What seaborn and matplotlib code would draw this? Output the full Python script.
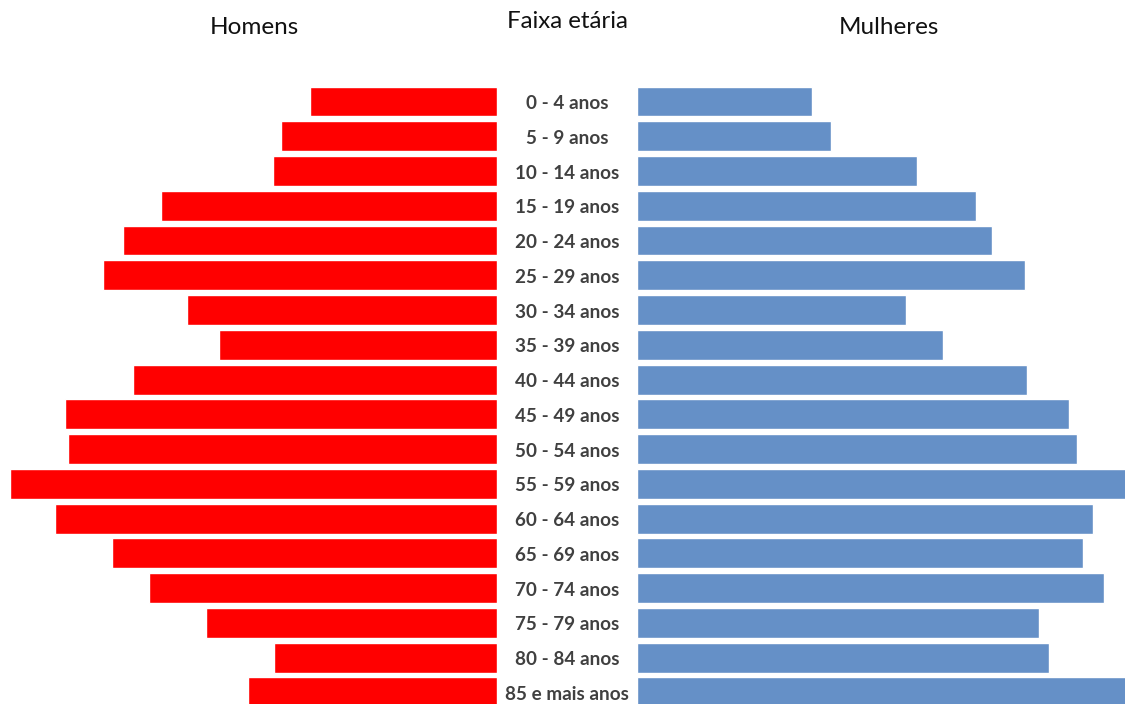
import matplotlib
matplotlib.use("Agg")
import matplotlib.pyplot as plt
import matplotlib.transforms as mtransforms
import seaborn as sns

faixas = ["0 - 4 anos", "5 - 9 anos", "10 - 14 anos", "15 - 19 anos", "20 - 24 anos",
          "25 - 29 anos", "30 - 34 anos", "35 - 39 anos", "40 - 44 anos", "45 - 49 anos",
          "50 - 54 anos", "55 - 59 anos", "60 - 64 anos", "65 - 69 anos", "70 - 74 anos",
          "75 - 79 anos", "80 - 84 anos", "85 e mais anos"]
homens = [187, 216, 224, 336, 374, 394, 310, 278, 364, 432, 429, 487, 442, 385, 348, 291, 223, 249]
mulheres = [175, 194, 280, 339, 355, 388, 269, 306, 390, 432, 440, 500, 456, 446, 467, 402, 412, 500]

sns.set_theme(style="white")
plt.rcParams["font.family"] = ["Lato", "DejaVu Sans"]

W, H = 1125, 704
fig = plt.figure(figsize=(W / 100, H / 100), dpi=100)

# vertical extent: row 0 centred at y=101.5 px, 34.76 px per row
pitch = 34.76
top_px = 101.5 - pitch / 2
bot_px = top_px + pitch * len(faixas)
ax_bottom = (H - bot_px) / H
ax_height = (bot_px - top_px) / H

axL = fig.add_axes([0, ax_bottom, 497 / W, ax_height])
axR = fig.add_axes([637 / W, ax_bottom, (W - 637) / W, ax_height])

sns.barplot(x=homens, y=faixas, ax=axL, color="#FF0000", saturation=1, width=0.86)
sns.barplot(x=mulheres, y=faixas, ax=axR, color="#6590C7", saturation=1, width=0.86)

axL.set_xlim(497, 0)
axR.set_xlim(0, W - 637)
for ax in (axL, axR):
    ax.set_ylim(len(faixas) - 0.5, -0.5)
    ax.set_axis_off()

trans = mtransforms.blended_transform_factory(fig.transFigure, axL.transData)
for i, lab in enumerate(faixas):
    fig.text(567 / W, i + 0.06, lab, transform=trans, ha="center", va="center",
             fontsize=13.6, fontweight="bold", color="#404040")

fig.text(254 / W, 1 - 27 / H, "Homens", ha="center", va="center", fontsize=17.5, color="#111111")
fig.text(567 / W, 1 - 22 / H, "Faixa etária", ha="center", va="center", fontsize=17.3, color="#111111")
fig.text(889 / W, 1 - 27 / H, "Mulheres", ha="center", va="center", fontsize=17.5, color="#111111")

fig.savefig("out.png", dpi=100, facecolor="white")
